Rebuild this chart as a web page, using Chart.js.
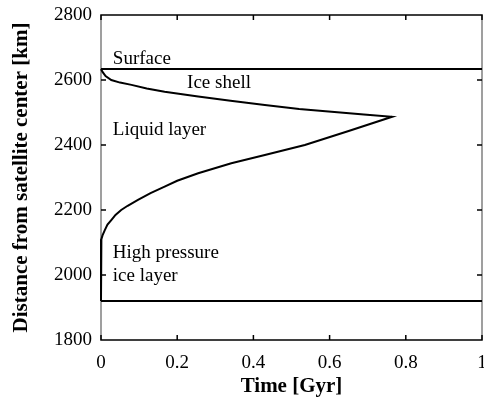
<!DOCTYPE html>
<html>
<head>
<meta charset="utf-8">
<script src="https://cdn.jsdelivr.net/npm/chart.js@4/dist/chart.umd.min.js"></script>
<style>
  body { margin: 0; background: #fff; }
  #wrap { width: 484px; height: 405px; }
</style>
</head>
<body>
<div id="wrap"><canvas id="chart"></canvas></div>
<script>
// Data: ice shell base (upper branch) then liquid layer base (lower branch)
const timeGyr = [0, 0.004, 0.012, 0.027, 0.05, 0.08, 0.12, 0.167, 0.255, 0.34, 0.43, 0.52, 0.605, 0.69, 0.764,
                 0.65, 0.535, 0.43, 0.342, 0.255, 0.2, 0.167, 0.13, 0.097, 0.07, 0.053, 0.038, 0.027, 0.017, 0.01, 0.004, 0.001, 0, 0];
const radiusKm = [2634, 2625, 2612, 2600, 2592, 2585, 2574, 2564, 2549, 2536, 2523, 2511, 2502, 2494, 2487,
                  2443, 2400, 2369, 2344, 2313, 2290, 2272, 2252, 2231, 2213, 2200, 2185, 2169, 2155, 2138, 2122, 2110, 2104, 1920];
const surfaceKm = 2634;
const hpIceTopKm = 1920;
const xTicks = [0, 0.2, 0.4, 0.6, 0.8, 1];
const yTicks = [1800, 2000, 2200, 2400, 2600, 2800];
const labels = [
  {text: 'Surface', x: 0.031, y: 2665},
  {text: 'Ice shell', x: 0.226, y: 2591},
  {text: 'Liquid layer', x: 0.031, y: 2446},
  {text: 'High pressure', x: 0.031, y: 2068},
  {text: 'ice layer', x: 0.031, y: 1997}
];

const serif = "'Liberation Serif', 'Times New Roman', serif";

// frame + inward ticks, drawn under the data
const framePlugin = {
  id: 'frame',
  beforeDatasetsDraw(chart) {
    const {ctx, chartArea: a, scales: {x, y}} = chart;
    ctx.save();
    ctx.lineWidth = 1.5;
    ctx.strokeStyle = '#808080';
    ctx.beginPath();
    ctx.moveTo(a.left, a.top); ctx.lineTo(a.left, a.bottom);
    ctx.moveTo(a.right, a.top); ctx.lineTo(a.right, a.bottom);
    ctx.stroke();
    ctx.strokeStyle = '#000';
    ctx.beginPath();
    ctx.moveTo(a.left - 0.75, a.top); ctx.lineTo(a.right + 0.75, a.top);
    ctx.moveTo(a.left - 0.75, a.bottom); ctx.lineTo(a.right + 0.75, a.bottom);
    xTicks.forEach(v => {
      const px = x.getPixelForValue(v);
      ctx.moveTo(px, a.bottom); ctx.lineTo(px, a.bottom - 5);
      ctx.moveTo(px, a.top); ctx.lineTo(px, a.top + 5);
    });
    yTicks.forEach(v => {
      const py = y.getPixelForValue(v);
      ctx.moveTo(a.left, py); ctx.lineTo(a.left + 5, py);
      ctx.moveTo(a.right, py); ctx.lineTo(a.right - 5, py);
    });
    ctx.stroke();
    ctx.restore();
  },
  afterDatasetsDraw(chart) {
    const {ctx, scales: {x, y}} = chart;
    ctx.save();
    ctx.font = '19px ' + serif;
    ctx.fillStyle = '#000';
    ctx.textAlign = 'left';
    ctx.textBaseline = 'middle';
    labels.forEach(l => ctx.fillText(l.text, x.getPixelForValue(l.x), y.getPixelForValue(l.y)));
    ctx.restore();
  }
};

const curve = timeGyr.map((t, i) => ({x: t, y: radiusKm[i]}));

new Chart(document.getElementById('chart'), {
  type: 'scatter',
  data: {
    datasets: [
      {data: curve, showLine: true, borderColor: '#000', borderWidth: 2, pointRadius: 0, tension: 0, clip: false},
      {data: [{x: 0, y: surfaceKm}, {x: 1, y: surfaceKm}], showLine: true, borderColor: '#000', borderWidth: 2, pointRadius: 0},
      {data: [{x: 0, y: hpIceTopKm}, {x: 1, y: hpIceTopKm}], showLine: true, borderColor: '#000', borderWidth: 2, pointRadius: 0}
    ]
  },
  options: {
    responsive: true,
    maintainAspectRatio: false,
    animation: false,
    layout: {padding: {top: 15, right: 2, left: 0, bottom: 0}},
    plugins: {legend: {display: false}, tooltip: {enabled: false}},
    scales: {
      x: {
        type: 'linear', min: 0, max: 1,
        afterBuildTicks: s => { s.ticks = xTicks.map(v => ({value: v})); },
        afterFit: s => { s.height = 65; s.paddingLeft = 0; s.paddingRight = 0; },
        border: {display: false},
        grid: {display: false, drawTicks: false},
        ticks: {color: '#000', font: {family: serif, size: 19}, padding: 12, callback: v => String(v)},
        title: {display: true, text: 'Time [Gyr]', color: '#000',
                font: {family: serif, size: 21, weight: 'bold'}, padding: {top: 0, bottom: 6}}
      },
      y: {
        type: 'linear', min: 1800, max: 2800,
        afterBuildTicks: s => { s.ticks = yTicks.map(v => ({value: v})); },
        afterFit: s => { s.width = 101; s.paddingTop = 0; s.paddingBottom = 0; },
        border: {display: false},
        grid: {display: false, drawTicks: false},
        ticks: {color: '#000', font: {family: serif, size: 19}, padding: 9, callback: v => String(v)},
        title: {display: true, text: 'Distance from satellite center [km]', color: '#000',
                font: {family: serif, size: 21, weight: 'bold'}, padding: {top: 9, bottom: 0}}
      }
    }
  },
  plugins: [framePlugin]
});
</script>
</body>
</html>
